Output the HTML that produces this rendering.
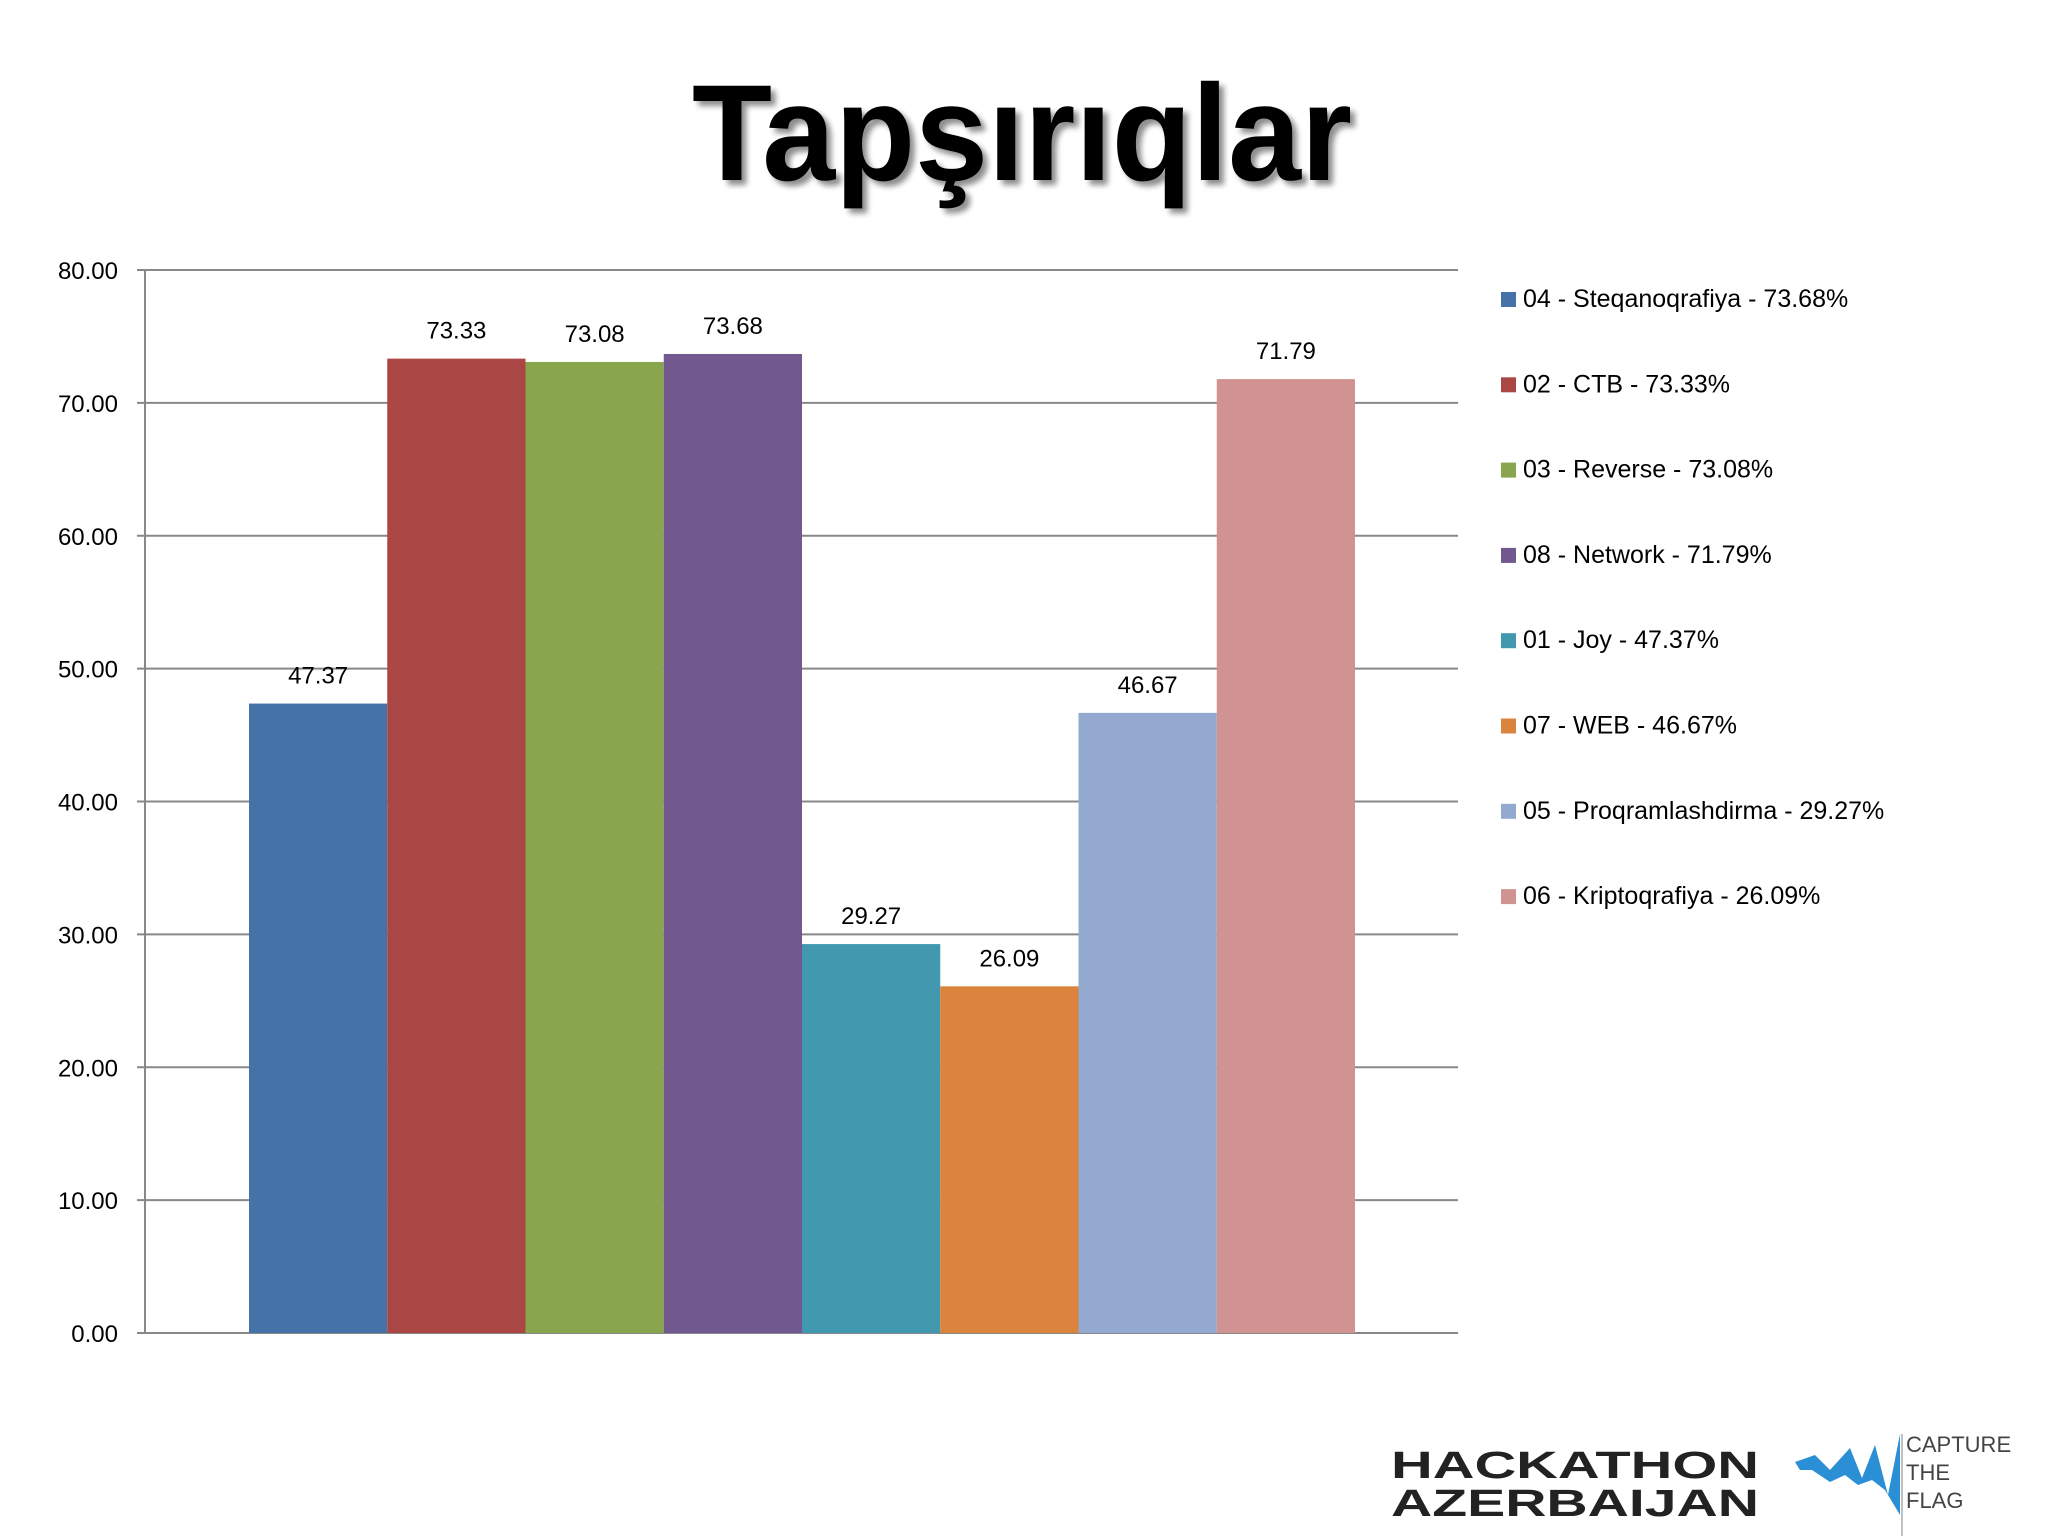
<!DOCTYPE html>
<html><head><meta charset="utf-8"><style>
html,body{margin:0;padding:0;background:#fff;}
svg{display:block;font-family:"Liberation Sans",sans-serif;}
</style></head><body>
<svg id="chart" width="2048" height="1536" viewBox="0 0 2048 1536" xmlns="http://www.w3.org/2000/svg">
<defs><filter id="sh" x="-10%" y="-10%" width="130%" height="140%"><feGaussianBlur in="SourceAlpha" stdDeviation="3"/><feOffset dx="5" dy="5"/><feComponentTransfer><feFuncA type="linear" slope="0.45"/></feComponentTransfer><feMerge><feMergeNode/><feMergeNode in="SourceGraphic"/></feMerge></filter></defs>
<text x="692" y="180" font-size="137" font-weight="bold" textLength="660" lengthAdjust="spacingAndGlyphs" filter="url(#sh)">Tapşırıqlar</text>
<g id="grid"></g>
<g id="bars"></g>
<g id="axis"></g>
<g id="legend"></g>
<g>
<text x="1391" y="1478" font-size="38" font-weight="bold" fill="#222" textLength="368" lengthAdjust="spacingAndGlyphs">HACKATHON</text>
<text x="1391" y="1516" font-size="38" font-weight="bold" fill="#222" textLength="368" lengthAdjust="spacingAndGlyphs">AZERBAIJAN</text>
</g>
<g>
<polygon points="1795,1462 1815,1455 1830,1470 1850,1448 1862,1478 1875,1445 1888,1495 1900,1434 1900,1515 1885,1490 1872,1480 1858,1485 1845,1475 1830,1482 1812,1470 1800,1470" fill="#2a8fd4"/>
<line x1="1902" y1="1434" x2="1902" y2="1536" stroke="#aaa" stroke-width="1.5"/>
<text x="1906" y="1452" font-size="22" fill="#444">CAPTURE</text>
<text x="1906" y="1480" font-size="22" fill="#444">THE</text>
<text x="1906" y="1508" font-size="22" fill="#444">FLAG</text>
</g>
</svg>
<script>
const categories=["04 - Steqanoqrafiya - 73.68%","02 - CTB - 73.33%","03 - Reverse - 73.08%","08 - Network - 71.79%","01 - Joy - 47.37%","07 - WEB - 46.67%","05 - Proqramlashdirma - 29.27%","06 - Kriptoqrafiya - 26.09%"];
const values=[47.37,73.33,73.08,73.68,29.27,26.09,46.67,71.79];
const valueLabels=["47.37","73.33","73.08","73.68","29.27","26.09","46.67","71.79"];
const colors=["#4572A7","#AA4643","#89A54E","#71588F","#4198AF","#DB843D","#93A9CF","#D19392"];
const ticks=[0,10,20,30,40,50,60,70,80];
const tickLabels=["0.00","10.00","20.00","30.00","40.00","50.00","60.00","70.00","80.00"];
const NS="http://www.w3.org/2000/svg";
const y0=1333,yTop=270,vmax=80,axX=145,plotR=1458,barStart=249,barW=138.25;
const yS=v=>y0-(v/vmax)*(y0-yTop);
const xS=i=>barStart+i*barW;
function mk(tag,at,parent){const e=document.createElementNS(NS,tag);for(const k in at)e.setAttribute(k,at[k]);parent.appendChild(e);return e;}
const grid=document.getElementById('grid'),bars=document.getElementById('bars'),axis=document.getElementById('axis'),legend=document.getElementById('legend');
ticks.forEach((t,i)=>{
 const l=mk('line',{x1:137,x2:plotR,y1:yS(t),y2:yS(t),stroke:'#888','stroke-width':2},grid);
 
 
 const tx=mk('text',{x:118,y:yS(t)+9,'font-size':24,'text-anchor':'end',fill:'#000'},axis);
 tx.textContent=tickLabels[i];
 
 
});
values.forEach((v,i)=>{
 const r=mk('rect',{x:xS(i),y:yS(v),width:barW,height:y0-yS(v),fill:colors[i]},bars);
 
 
 const t=mk('text',{x:xS(i)+barW/2,y:yS(v)-20,'font-size':24,'text-anchor':'middle',fill:'#000'},bars);
 t.textContent=valueLabels[i];
 
 
});
const ax=mk('line',{x1:axX,x2:axX,y1:yTop,y2:y0,stroke:'#888','stroke-width':2},axis);


categories.forEach((c,i)=>{
 const y=292+i*85.3;
 const s=mk('rect',{x:1501,y:y,width:15,height:15,fill:colors[i]},legend);
 
 
 const t=mk('text',{x:1523,y:y+15,'font-size':25,fill:'#000'},legend);
 t.textContent=c;
 
 
});
</script>
</body></html>
